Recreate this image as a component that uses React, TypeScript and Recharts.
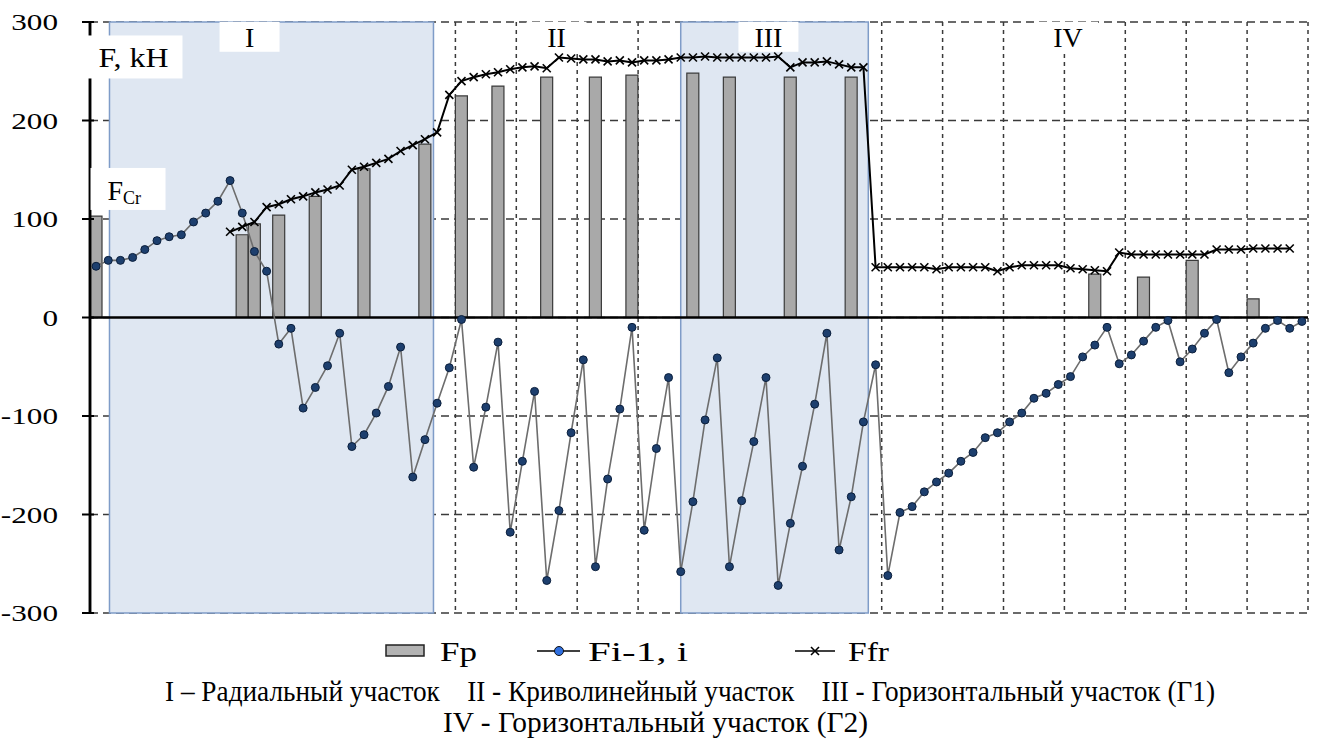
import React from "react";
import {
    ComposedChart,
    Bar,
    Line,
    XAxis,
    YAxis,
    CartesianGrid,
    ReferenceArea,
    ReferenceDot,
    ReferenceLine,
    Legend,
} from "recharts";

const SERIF = "Liberation Serif";
const SANS = "Liberation Sans";

// x categories (point numbers)
const categories = [
    1, 2, 3, 4, 5, 6, 7, 8, 9, 10, 11, 12, 13, 14, 15, 16, 17, 18, 19, 20,
    21, 22, 23, 24, 25, 26, 27, 28, 29, 30, 31, 32, 33, 34, 35, 36, 37, 38, 39, 40,
    41, 42, 43, 44, 45, 46, 47, 48, 49, 50, 51, 52, 53, 54, 55, 56, 57, 58, 59, 60,
    61, 62, 63, 64, 65, 66, 67, 68, 69, 70, 71, 72, 73, 74, 75, 76, 77, 78, 79, 80,
    81, 82, 83, 84, 85, 86, 87, 88, 89, 90, 91, 92, 93, 94, 95, 96, 97, 98, 99, 100,
];

// Fi-1, i
const fiValues = [
    52, 58, 58, 61, 69, 78, 82, 84, 97, 106, 118, 139, 106, 67, 47, -27, -11, -92, -71, -49,
    -16, -131, -119, -97, -70, -30, -162, -124, -87, -51, -2, -152, -91, -25, -218, -146, -75, -267, -196, -117,
    -43, -253, -164, -93, -10, -216, -133, -61, -258, -187, -104, -41, -253, -186, -126, -61, -272, -209, -151, -88,
    -16, -236, -182, -106, -48, -262, -198, -192, -177, -167, -158, -146, -137, -122, -117, -106, -97, -82, -77, -68,
    -60, -40, -28, -10, -47, -38, -24, -10, -3, -45, -32, -16, -2, -56, -40, -26, -11, -3, -11, -4,
];

// Ffr
const ffrValues = [
    null, null, null, null, null, null, null, null, null, null, null, 87, 92, 97, 112, 115, 120, 123, 127, 130,
    134, 150, 153, 157, 161, 169, 175, 181, 188, 226, 240, 244, 247, 249, 252, 254, 255, 253, 264, 263,
    262, 262, 260, 261, 259, 261, 261, 262, 264, 264, 265, 264, 264, 264, 264, 264, 265, 254, 259, 259,
    260, 257, 254, 254, 51, 51, 51, 51, 51, 49, 51, 51, 51, 51, 47, 51, 53, 53, 53, 53,
    50, 49, 48, 47, 66, 64, 64, 64, 64, 64, 64, 64, 69, 69, 69, 70, 70, 70, 70, null,
];

// Fp bars
const fpCategories = [1, 13, 14, 16, 19, 23, 28, 31, 34, 38, 42, 45, 50, 53, 58, 63, 83, 87, 91, 96];
const fpValues = [103, 84, 95, 104, 123, 151, 176, 225, 235, 244, 244, 246, 248, 244, 244, 244, 44, 41, 58, 19];

const xTickLabels = [
    1, 4, 7, 10, 13, 16, 19, 22, 25, 28, 31, 34, 37, 40, 43, 46, 49, 52, 55, 58,
    61, 64, 67, 70, 73, 76, 79, 82, 85, 88, 91, 94, 97, 100,
];
const yTicks = [-300, -200, -100, 0, 100, 200, 300];
// vertical grid lines after every 5th point
const gridAfter = [5, 10, 15, 20, 25, 30, 35, 40, 45, 50, 55, 60, 65, 70, 75, 80, 85, 90, 95, 100];

// shaded sections
const shadedZones = [
    { from: 2.1, to: 28.7 },
    { from: 49.0, to: 64.4 },
];
const zoneLabels = ["I", "II", "III", "IV"];
const zoneLabelAt = [13.6, 38.8, 56.2, 80.8];

const data = categories.map((c, i) => {
    const k = fpCategories.indexOf(c);
    return {
        x: c,
        fp: k >= 0 ? fpValues[k] : null,
        fi: fiValues[i],
        ffr: ffrValues[i],
    };
});

const W = 1323;
const H = 740;
const M = { top: 22, right: 15, bottom: 127, left: 0 };
const Y_AXIS_W = 90;
const AXIS_X = M.left + Y_AXIS_W;
const Y_MIN = -300;
const Y_MAX = 300;
const Y_ZERO = M.top + ((H - M.top - M.bottom) * Y_MAX) / (Y_MAX - Y_MIN);

const YTick = ({ y, payload }: any) => (
    <g>
        <line x1={AXIS_X - 8} x2={AXIS_X + 4} y1={y} y2={y} stroke="#000" strokeWidth={2} />
        <text
            transform={`translate(${AXIS_X - 32},${y}) scale(1.3,1)`}
            textAnchor="end"
            dominantBaseline="central"
            fontFamily={SERIF}
            fontSize={24}
            fill="#000"
        >
            {payload.value}
        </text>
    </g>
);

const XTick = ({ x, payload }: any) => (
    <text
        transform={`translate(${x},${Y_ZERO + 30}) rotate(-90)`}
        textAnchor="middle"
        dominantBaseline="central"
        fontFamily={SANS}
        fontSize={18}
        fill="#5b5044"
    >
        {payload.value}
    </text>
);

const Cross = ({ cx, cy, s = 4 }: any) => (
    <g stroke="#000" strokeWidth={1.6}>
        <line x1={cx - s} y1={cy - s} x2={cx + s} y2={cy + s} />
        <line x1={cx - s} y1={cy + s} x2={cx + s} y2={cy - s} />
    </g>
);

const renderFiDot = (p: any) => {
    if (p.value == null || p.cy == null) return <g key={p.index} />;
    return <circle key={p.index} cx={p.cx} cy={p.cy} r={4} fill="#1d3f6e" stroke="#0b1f3c" strokeWidth={1} />;
};

const renderFfrDot = (p: any) => {
    if (p.value == null || p.cy == null) return <g key={p.index} />;
    return <Cross key={p.index} cx={p.cx} cy={p.cy} />;
};

const zoneLabelShape = (text: string) => (p: any) => (
    <g>
        <rect x={p.cx - 30} y={p.cy - 15} width={60} height={30} fill="#fff" />
        <text x={p.cx} y={p.cy + 10} textAnchor="middle" fontFamily={SERIF} fontSize={28} fill="#000">
            {text}
        </text>
    </g>
);

const axisTitleShape = (p: any) => (
    <g>
        <rect x={p.cx - 48} y={p.cy - 21} width={97} height={43} fill="#fff" />
        <text x={p.cx - 35} y={p.cy + 11} fontFamily={SERIF} fontSize={27} textLength={70} lengthAdjust="spacingAndGlyphs" fill="#000">
            F, kH
        </text>
    </g>
);

const fcrShape = (p: any) => (
    <g>
        <rect x={p.cx - 37} y={p.cy - 21} width={75} height={42} fill="#fff" />
        <text x={p.cx - 20} y={p.cy + 11} fontFamily={SERIF} fontSize={28} fill="#000">
            F
            <tspan fontSize={18} dy={4}>Cr</tspan>
        </text>
    </g>
);

const captionLine1 = "I – Радиальный участок    II - Криволинейный участок    III - Горизонтальный участок (Г1)";
const captionLine2 = "IV - Горизонтальный участок (Г2)";

const LegendBox = () => (
    <svg width={W} height={104} style={{ display: "block" }}>
        <g fontFamily={SERIF} fill="#000">
            <rect x={386} y={9} width={38} height={11} fill="#b3b3b3" stroke="#222" strokeWidth={1.5} />
            <text x={440} y={25} fontSize={27} textLength={37} lengthAdjust="spacingAndGlyphs">Fp</text>

            <line x1={537} x2={580} y1={15} y2={15} stroke="#000" strokeWidth={1.5} />
            <circle cx={559} cy={15} r={4.5} fill="#2f6fe0" stroke="#111" strokeWidth={1} />
            <text x={588} y={25} fontSize={27} textLength={100} lengthAdjust="spacingAndGlyphs">Fi-1, i</text>

            <line x1={795} x2={835} y1={15} y2={15} stroke="#000" strokeWidth={1.5} />
            <Cross cx={815} cy={15} />
            <text x={848} y={25} fontSize={27} textLength={41} lengthAdjust="spacingAndGlyphs">Ffr</text>

            <text x={165} y={65} fontSize={29} textLength={1050} lengthAdjust="spacingAndGlyphs" style={{ whiteSpace: "pre" }}>
                {captionLine1}
            </text>
            <text x={443} y={96} fontSize={29} textLength={425} lengthAdjust="spacingAndGlyphs" style={{ whiteSpace: "pre" }}>
                {captionLine2}
            </text>
        </g>
    </svg>
);

export default function App() {
    return (
        <div style={{ position: "absolute", left: 0, top: 0, width: W, height: H, background: "#fff" }}>
            <ComposedChart width={W} height={H} data={data} margin={M}>
                {shadedZones.map((z, i) => (
                    <ReferenceArea
                        key={"zone" + i}
                        x1={z.from}
                        x2={z.to}
                        y1={Y_MIN}
                        y2={Y_MAX}
                        fill="#dfe7f2"
                        fillOpacity={1}
                        stroke="#7f9cc8"
                        strokeWidth={1.5}
                        ifOverflow="extendDomain"
                    />
                ))}

                <CartesianGrid
                    vertical={false}
                    stroke="#3a3a3a"
                    strokeWidth={1.5}
                    strokeDasharray="8 5"
                />
                <CartesianGrid
                    horizontal={false}
                    stroke="#3a3a3a"
                    strokeWidth={1.5}
                    strokeDasharray="4 4"
                    verticalValues={gridAfter.map((g) => g + 0.5)}
                />

                <XAxis
                    type="number"
                    dataKey="x"
                    domain={[0.5, 100.5]}
                    ticks={xTickLabels}
                    interval={0}
                    tick={XTick}
                    axisLine={false}
                    tickLine={false}
                    height={0}
                    allowDataOverflow
                />
                <YAxis
                    type="number"
                    domain={[Y_MIN, Y_MAX]}
                    ticks={yTicks}
                    interval={0}
                    width={Y_AXIS_W}
                    tick={YTick}
                    axisLine={{ stroke: "#000", strokeWidth: 2.5 }}
                    tickLine={false}
                    allowDataOverflow
                />

                <ReferenceLine x={0.5} stroke="#000" strokeWidth={2.5} ifOverflow="visible" />
                <ReferenceLine y={0} stroke="#000" strokeWidth={2.5} />

                <Bar
                    dataKey="fp"
                    name="Fp"
                    barSize={12}
                    fill="#a9a9a9"
                    stroke="#3a3a3a"
                    strokeWidth={1.2}
                    isAnimationActive={false}
                />
                <Line
                    dataKey="fi"
                    name="Fi-1, i"
                    stroke="#6d6d6d"
                    strokeWidth={1.6}
                    dot={renderFiDot}
                    activeDot={false}
                    isAnimationActive={false}
                />
                <Line
                    dataKey="ffr"
                    name="Ffr"
                    stroke="#000"
                    strokeWidth={2}
                    dot={renderFfrDot}
                    activeDot={false}
                    isAnimationActive={false}
                />

                {zoneLabels.map((t, i) => (
                    <ReferenceDot key={t} x={zoneLabelAt[i]} y={285} r={0} shape={zoneLabelShape(t)} />
                ))}
                <ReferenceDot x={4.07} y={265} r={0} shape={axisTitleShape} />
                <ReferenceDot x={3.58} y={130.5} r={0} shape={fcrShape} />

                <Legend
                    layout="horizontal"
                    verticalAlign="middle"
                    align="center"
                    content={() => <LegendBox />}
                    wrapperStyle={{ top: 636, left: 0, width: W, height: 104 }}
                />
            </ComposedChart>
        </div>
    );
}
